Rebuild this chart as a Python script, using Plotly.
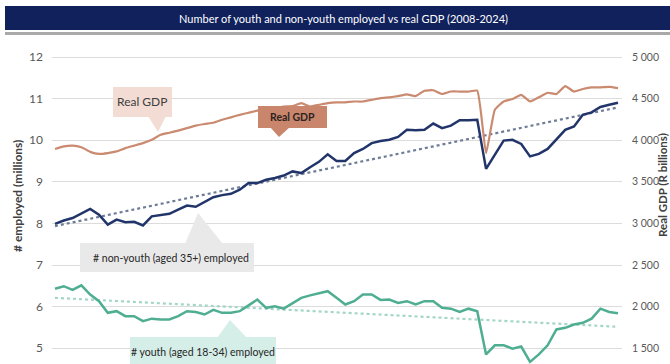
import numpy as np
import plotly.graph_objects as go

# ---------------- data ----------------
quarters = [f"{y}Q{q}" for y in range(2008, 2025) for q in range(1, 5)][:65]

non_youth = [7.99, 8.07, 8.13, 8.25, 8.35, 8.21, 7.97, 8.09, 8.03, 8.04,
             7.95, 8.17, 8.20, 8.23, 8.33, 8.43, 8.40, 8.51, 8.63, 8.68,
             8.71, 8.81, 8.97, 8.97, 9.05, 9.09, 9.15, 9.25, 9.21, 9.35,
             9.48, 9.66, 9.50, 9.50, 9.69, 9.79, 9.93, 9.98, 10.01, 10.08,
             10.25, 10.24, 10.25, 10.40, 10.29, 10.35, 10.48, 10.48, 10.49, 9.31,
             9.65, 9.99, 10.01, 9.91, 9.61, 9.67, 9.79, 10.03, 10.25, 10.33,
             10.61, 10.67, 10.80, 10.85, 10.90]

youth = [6.43, 6.49, 6.40, 6.51, 6.29, 6.13, 5.85, 5.89, 5.77, 5.77,
         5.65, 5.71, 5.69, 5.69, 5.77, 5.89, 5.87, 5.81, 5.92, 5.85,
         5.85, 5.89, 6.03, 6.17, 5.97, 6.01, 5.95, 6.09, 6.21, 6.27,
         6.32, 6.37, 6.21, 6.05, 6.13, 6.29, 6.29, 6.16, 6.17, 6.09,
         6.13, 6.05, 6.13, 6.13, 5.97, 5.95, 5.87, 5.95, 5.89, 4.85,
         5.07, 5.07, 4.99, 5.04, 4.67, 4.85, 5.07, 5.45, 5.49, 5.57,
         5.61, 5.71, 5.95, 5.87, 5.84]

real_gdp = [3895, 3925, 3935, 3915, 3860, 3835, 3845, 3865, 3905, 3935,
            3965, 4005, 4065, 4090, 4115, 4145, 4175, 4195, 4210, 4245,
            4275, 4305, 4330, 4355, 4375, 4385, 4405, 4410, 4445, 4405,
            4425, 4445, 4455, 4455, 4465, 4465, 4485, 4505, 4515, 4530,
            4550, 4530, 4595, 4600, 4555, 4585, 4585, 4585, 4595, 3845,
            4365, 4465, 4495, 4545, 4465, 4515, 4570, 4555, 4650, 4585,
            4615, 4635, 4635, 4640, 4625]

left_ticks = [5, 6, 7, 8, 9, 10, 11, 12]
right_ticks = [1500, 2000, 2500, 3000, 3500, 4000, 4500, 5000]
right_tick_text = ["1 500", "2 000", "2 500", "3 000", "3 500", "4 000", "4 500", "5 000"]

title_text = "Number of youth and non-youth employed vs real GDP (2008-2024)"

# ---------------- colours ----------------
C_NAVY = "#22356b"
C_GDP = "#c98a70"
C_GREEN = "#4fae92"
C_NAVY_TREND = "#6f7c98"
C_GREEN_TREND = "#a3d6c6"

# ---------------- geometry ----------------
W, H = 670, 364
ML, MR, MT, MB = 52, 48, 40, 0
PW, PH = W - ML - MR, H - MT - MB


def px(xp):
    return (xp - ML) / PW


def py(yp):
    return (H - MB - yp) / PH


idx = np.arange(len(quarters))
nt = np.polyval(np.polyfit(idx, non_youth, 1), idx)
yt = np.polyval(np.polyfit(idx, youth, 1), idx)

fig = go.Figure()
fig.add_trace(go.Scatter(x=quarters, y=nt, mode="lines",
                         line=dict(color=C_NAVY_TREND, width=2.2, dash="dot"),
                         hoverinfo="skip", showlegend=False))
fig.add_trace(go.Scatter(x=quarters, y=yt, mode="lines",
                         line=dict(color=C_GREEN_TREND, width=2.2, dash="dot"),
                         hoverinfo="skip", showlegend=False))
fig.add_trace(go.Scatter(x=quarters, y=real_gdp, mode="lines", yaxis="y2",
                         line=dict(color=C_GDP, width=2.2, shape="spline", smoothing=0.4),
                         name="Real GDP", showlegend=False))
fig.add_trace(go.Scatter(x=quarters, y=non_youth, mode="lines",
                         line=dict(color=C_NAVY, width=2.5),
                         name="# non-youth (aged 35+) employed", showlegend=False))
fig.add_trace(go.Scatter(x=quarters, y=youth, mode="lines",
                         line=dict(color=C_GREEN, width=2.5),
                         name="# youth (aged 18-34) employed", showlegend=False))

FONT = "Lato"
shapes = []
annots = []

# title bar
shapes.append(dict(type="rect", xref="paper", yref="paper", x0=px(5), x1=px(672),
                   y0=py(30), y1=py(6), fillcolor="#10215c", line=dict(width=0), layer="above"))
shapes.append(dict(type="rect", xref="paper", yref="paper", x0=px(5), x1=px(672),
                   y0=py(35), y1=py(32), fillcolor="#a9a9a9", line=dict(width=0), layer="above"))
annots.append(dict(xref="paper", yref="paper", x=px(343), y=py(19), text=title_text,
                   showarrow=False, font=dict(family=FONT, size=11, color="white"),
                   xanchor="center", yanchor="middle"))


def callout(x0, x1, y0, y1, tri, color, text, tx, ty, fsize, fcolor, bold=False):
    shapes.append(dict(type="rect", xref="paper", yref="paper", x0=px(x0), x1=px(x1),
                       y0=py(y1), y1=py(y0), fillcolor=color, line=dict(width=0), layer="above"))
    (ax, ay), (bx, by), (cx, cy) = tri
    path = (f"M {px(ax)} {py(ay)} L {px(bx)} {py(by)} L {px(cx)} {py(cy)} Z")
    shapes.append(dict(type="path", xref="paper", yref="paper", path=path,
                       fillcolor=color, line=dict(width=0), layer="above"))
    t = f"<b>{text}</b>" if bold else text
    annots.append(dict(xref="paper", yref="paper", x=px(tx), y=py(ty), text=t,
                       showarrow=False, font=dict(family=FONT, size=fsize, color=fcolor),
                       xanchor="center", yanchor="middle"))


callout(113, 172, 87, 117, ((148, 116), (166, 116), (158, 132)), "#f2dcd3",
        "Real GDP", 142, 102, 12, "#404040")
callout(258, 327, 106, 128, ((270, 127), (290, 127), (279, 137)), "#c9866d",
        "Real GDP", 292, 117, 10.5, "#2e2320", bold=True)
callout(80, 254, 243, 272, ((185, 244), (223, 244), (198, 213)), "#e9e9e9",
        "# non-youth (aged 35+) employed", 171, 257.5, 10.5, "#262626")
callout(130, 276, 337, 372, ((217, 338), (247, 338), (230, 320)), "#d5eee7",
        "# youth (aged 18-34) employed", 203, 352, 10.5, "#262626")

# axis titles
annots.append(dict(xref="paper", yref="paper", x=px(17), y=py(196),
                   text="<b># employed (millions)</b>", textangle=-90, showarrow=False,
                   font=dict(family=FONT, size=12, color="#404040"),
                   xanchor="center", yanchor="middle"))
annots.append(dict(xref="paper", yref="paper", x=px(662), y=py(185),
                   text="<b>Real GDP (R billions)</b>", textangle=-90, showarrow=False,
                   font=dict(family=FONT, size=11.5, color="#404040"),
                   xanchor="center", yanchor="middle"))

step_px = 8.797
x_lo = -(55 - ML) / step_px
x_hi = (len(quarters) - 1) + (ML + PW - 618) / step_px

v_top = 12 + (57 - MT) / 41.6
v_bot = 12 - (H - MB - 57) / 41.6

fig.update_layout(
    width=W, height=H,
    margin=dict(l=ML, r=MR, t=MT, b=MB),
    paper_bgcolor="white", plot_bgcolor="white",
    shapes=shapes, annotations=annots,
    xaxis=dict(type="category", range=[x_lo, x_hi], showgrid=False, showticklabels=False,
               zeroline=False, showline=False, ticks=""),
    yaxis=dict(range=[v_bot, v_top], tickvals=left_ticks, showgrid=True,
               gridcolor="#dcdcdc", gridwidth=1, zeroline=False, showline=False,
               ticks="", tickfont=dict(family=FONT, size=12, color="#595959"),
               ticklabelstandoff=8),
    yaxis2=dict(range=[1500 + (v_bot - 5) * 500, 1500 + (v_top - 5) * 500],
                overlaying="y", side="right", tickvals=right_ticks, ticktext=right_tick_text,
                showgrid=False, zeroline=False, showline=False, ticks="",
                tickfont=dict(family=FONT, size=10.5, color="#595959"),
                ticklabelstandoff=9),
    showlegend=False,
)

fig.write_html("out.html", post_script="document.body.style.margin='0';",
               config={"displayModeBar": False})
